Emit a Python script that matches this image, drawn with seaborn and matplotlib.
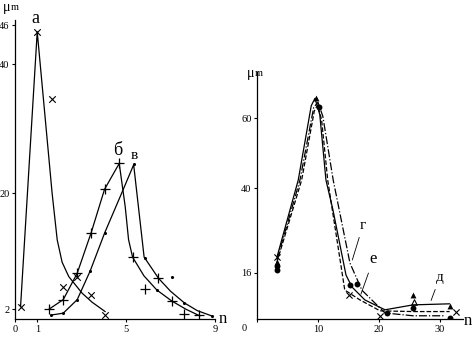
import matplotlib
matplotlib.use("Agg")
import matplotlib.pyplot as plt
import numpy as np
import pandas as pd
import seaborn as sns

# ---- left panel: curves a, б, в (n vs mu_m) ----
a_line_n = [0.25, 1.0, 1.67, 1.9, 2.12, 2.42, 3.02, 3.47, 4.06]
a_line_y = [2.4, 45.0, 20.0, 12.75, 9.3, 7.07, 4.5, 3.1, 1.64]
a_pts_n = [0.25, 1.0, 1.67, 2.17, 2.8, 3.43, 4.05]
a_pts_y = [2.4, 45.0, 34.6, 5.5, 7.0, 4.2, 1.1]

b_line_n = [1.52, 2.17, 2.8, 3.43, 4.03, 4.69, 4.96, 5.11, 5.29, 5.8, 6.38, 7.05, 7.7, 8.32]
b_line_y = [2.0, 3.5, 7.6, 13.9, 20.6, 24.6, 17.9, 12.8, 10.1, 7.2, 5.0, 3.3, 2.0, 0.98]
b_pts_n = [1.52, 2.17, 2.8, 3.43, 4.03, 4.69, 5.29, 5.86, 6.43, 7.05, 7.62, 8.28]
b_pts_y = [2.0, 3.5, 7.6, 13.9, 20.6, 24.6, 10.1, 5.1, 6.8, 3.3, 1.2, 1.1]

v_line_n = [1.6, 2.17, 2.8, 3.39, 4.03, 4.8, 5.34, 5.81, 6.46, 7.0, 7.62, 8.2, 8.85]
v_line_y = [1.1, 1.4, 3.5, 8.0, 13.8, 20.0, 24.4, 10.1, 6.8, 4.8, 3.0, 1.8, 0.98]
v_pts_n = [1.6, 2.17, 2.8, 3.39, 4.03, 5.34, 5.86, 6.38, 7.08, 7.62, 8.85]
v_pts_y = [1.1, 1.4, 3.5, 8.0, 13.8, 24.5, 10.0, 5.0, 7.0, 3.0, 0.9]

left_xticks = [0, 1, 5, 9]
left_yticks = [2, 20, 40, 46]

# ---- right panel: curves г, д, е ----
d_line_n = [3.28, 6.77, 8.9, 9.51, 10.3, 11.31, 12.46, 14.6, 15.57, 17.7, 21.0, 25.6, 31.6]
d_line_y = [20.5, 42.4, 63.5, 65.6, 61.0, 42.4, 33.9, 15.4, 12.0, 8.3, 5.5, 6.9, 7.2]
e_line_n = [3.28, 7.33, 9.4, 9.95, 10.6, 11.6, 14.4, 16.9, 20.2, 25.6, 31.6]
e_line_y = [19.1, 42.4, 62.0, 63.7, 59.5, 42.4, 11.1, 8.3, 5.2, 5.0, 5.0]
g_line_n = [3.28, 7.05, 9.3, 10.0, 10.8, 12.5, 15.25, 17.2, 21.0, 25.6, 30.8]
g_line_y = [19.7, 42.4, 63.0, 64.5, 60.5, 42.4, 18.8, 11.1, 4.6, 3.8, 3.8]

x_pts_n = [3.28, 15.1, 20.2, 32.6]
x_pts_y = [20.6, 9.7, 3.8, 4.9]
tri_pts_n = [3.28, 9.62, 25.6, 31.6]
tri_pts_y = [19.1, 65.6, 9.7, 6.6]
dot_pts_n = [3.28, 3.28, 10.2, 15.25, 16.4, 21.4, 25.6, 31.6]
dot_pts_y = [17.9, 16.9, 63.2, 12.6, 12.8, 4.5, 5.9, 3.1]
open_tri_n = [25.7]
open_tri_y = [7.8]

right_xticks = [0, 10, 20, 30]
right_yticks = [16, 40, 60]

sns.set_theme(style="white")
plt.rcParams.update({
    "font.family": ["Liberation Serif", "DejaVu Serif"],
    "text.color": "black",
    "axes.labelcolor": "black",
    "xtick.color": "black",
    "ytick.color": "black",
    "axes.edgecolor": "black",
})

W, H = 474, 340
PT = 0.72  # points per pixel at 100 dpi
fig = plt.figure(figsize=(W / 100, H / 100), dpi=100)
ax1 = fig.add_axes([15 / W, 21 / H, 200 / W, 298.8 / H])
ax2 = fig.add_axes([257 / W, 20.7 / H, 206 / W, 247 / H])

lw = 0.9
line_kw = dict(sort=False, estimator=None, color="black", lw=lw, legend=False)

# left panel
sns.lineplot(x=a_line_n, y=a_line_y, ax=ax1, **line_kw)
sns.lineplot(x=b_line_n, y=b_line_y, ax=ax1, **line_kw)
sns.lineplot(x=v_line_n, y=v_line_y, ax=ax1, **line_kw)
sns.scatterplot(x=a_pts_n, y=a_pts_y, marker="x", s=22, color="black", linewidth=0.8, ax=ax1)
sns.scatterplot(x=b_pts_n, y=b_pts_y, marker="+", s=55, color="black", linewidth=0.9, ax=ax1)
sns.scatterplot(x=v_pts_n, y=v_pts_y, marker="o", s=5, color="black", linewidth=0, ax=ax1)

ax1.set_xlim(0, 8.97)
ax1.set_ylim(0.5, 46.8)
ax1.set_xticks(left_xticks)
ax1.set_yticks(left_yticks)
ax1.text(0.92, 47.0, "а", fontsize=13, ha="center", va="center")
ax1.text(4.63, 26.6, "б", fontsize=13, ha="center", va="center")
ax1.text(5.38, 25.8, "в", fontsize=11, ha="center", va="center")

# right panel
sns.lineplot(x=d_line_n, y=d_line_y, ax=ax2, **line_kw)
sns.lineplot(x=e_line_n, y=e_line_y, ax=ax2, linestyle="--", **line_kw)
sns.lineplot(x=g_line_n, y=g_line_y, ax=ax2, linestyle="-.", **line_kw)
sns.scatterplot(x=x_pts_n, y=x_pts_y, marker="x", s=20, color="black", linewidth=0.8, ax=ax2)
sns.scatterplot(x=tri_pts_n, y=tri_pts_y, marker="^", s=18, color="black", linewidth=0, ax=ax2)
sns.scatterplot(x=dot_pts_n, y=dot_pts_y, marker="o", s=18, color="black", linewidth=0, ax=ax2)
sns.scatterplot(x=open_tri_n, y=open_tri_y, marker="^", s=16, facecolor="white",
                edgecolor="black", linewidth=0.8, ax=ax2)

ax2.set_xlim(0, 33.8)
ax2.set_ylim(2.8, 73)
ax2.set_xticks(right_xticks)
ax2.set_xticklabels([""] + [str(t) for t in right_xticks[1:]])
ax2.set_yticks(right_yticks)

lead = dict(arrowstyle="-", color="black", lw=0.6)
ax2.annotate("г", xy=(15.5, 18.9), xytext=(17.4, 29.6), fontsize=11,
             ha="center", va="center", arrowprops=lead)
ax2.annotate("е", xy=(16.9, 9.2), xytext=(19.1, 19.9), fontsize=12,
             ha="center", va="center", arrowprops=lead)
ax2.annotate("д", xy=(28.4, 7.4), xytext=(30.0, 14.8), fontsize=11,
             ha="center", va="center", arrowprops=lead)

for ax in (ax1, ax2):
    sns.despine(ax=ax)
    for s in ("left", "bottom"):
        ax.spines[s].set_linewidth(0.9)
    ax.tick_params(axis="both", which="major", labelsize=7.5, length=2.5,
                   width=0.8, pad=1.5, direction="out", left=True, bottom=True)
    ax.set_xlabel("")
    ax.set_ylabel("")

# axis names, offsets given in pixels
def axis_text(ax, s, xy, dx, dy, size, ha="left", va="center"):
    ax.annotate(s, xy=xy, xycoords="axes fraction", xytext=(dx * PT, dy * PT),
                textcoords="offset points", fontsize=size, ha=ha, va=va)

axis_text(ax1, "n", (1, 0), 4, 0, 12)
axis_text(ax2, "n", (1, 0), 1, -2, 12)
axis_text(ax1, "μ", (0, 1), -12, 13, 10)
axis_text(ax1, "m", (0, 1), -4, 13, 7.5)
axis_text(ax2, "μ", (0, 1), -10, -1, 10)
axis_text(ax2, "m", (0, 1), -2, -1, 7.5)

# the "0" label of the right panel sits left of the spine in the original
axis_text(ax2, "0", (0, 0), -13, -5, 7.5, ha="center", va="top")

fig.savefig("out.png", dpi=100)
